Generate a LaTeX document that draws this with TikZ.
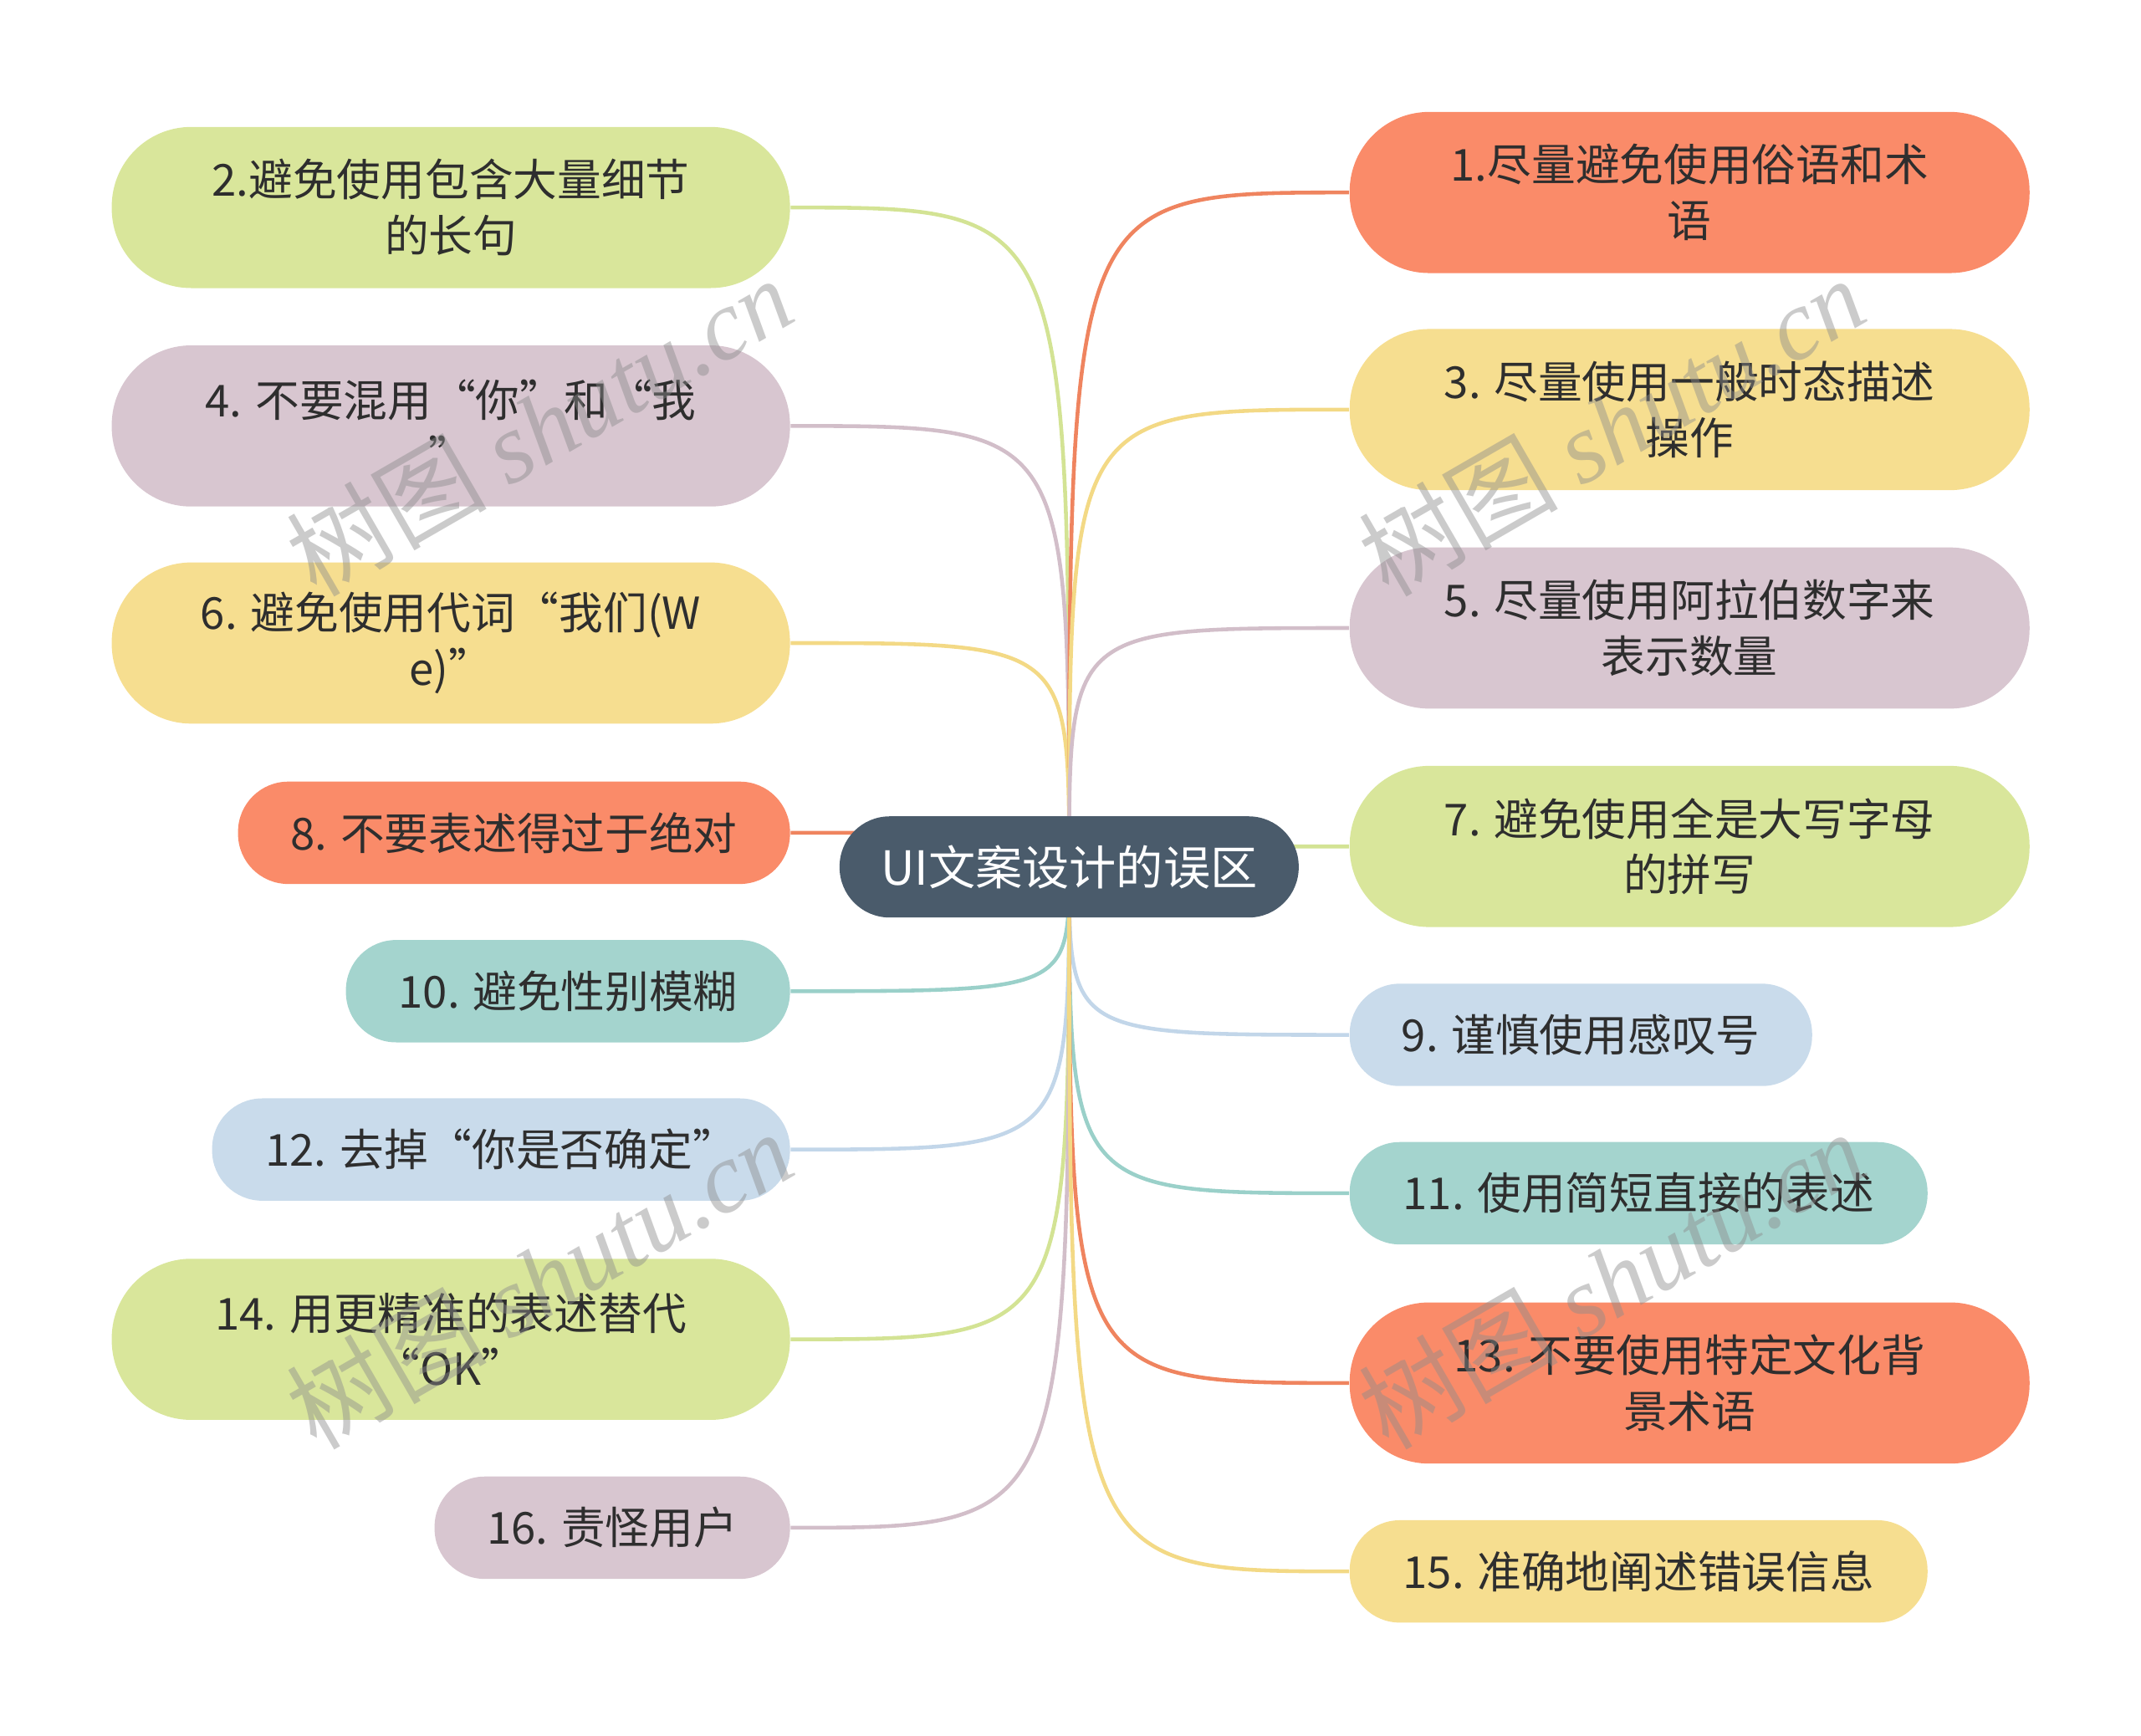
\documentclass[tikz,border=0pt]{standalone}
\usepackage{fontspec}
\setmainfont{Noto Sans CJK SC}
\newfontfamily\wmlatin{Liberation Serif}
\usetikzlibrary{backgrounds}
\definecolor{fgreen}{HTML}{D9E69B}
\definecolor{fmauve}{HTML}{D8C6D0}
\definecolor{fyellow}{HTML}{F6DE90}
\definecolor{fcoral}{HTML}{FA8B69}
\definecolor{fteal}{HTML}{A4D4CE}
\definecolor{fblue}{HTML}{C9DBEB}
\definecolor{egreen}{HTML}{D3E394}
\definecolor{emauve}{HTML}{D2BEC9}
\definecolor{eyellow}{HTML}{F3D985}
\definecolor{ecoral}{HTML}{EF845F}
\definecolor{eteal}{HTML}{9AD0C9}
\definecolor{eblue}{HTML}{C2D6E9}
\definecolor{rootfill}{HTML}{4A5B6B}
\definecolor{txt}{HTML}{2E2E2E}
\definecolor{wmgray}{HTML}{8C8C8C}
\begin{document}
\begin{tikzpicture}[x=0.016327cm,y=-0.016327cm,
  leaf/.style={align=center,text=txt,inner sep=0pt,
    font=\fontsize{15}{19}\selectfont},
  twoline/.style={leaf,minimum height=1.927cm,rounded corners=0.95cm},
  oneline/.style={leaf,minimum height=1.224cm,rounded corners=0.6cm},
  lside/.style={anchor=east},
  rside/.style={anchor=west},
  edge/.style={line width=1.3pt},
  wm/.style={text=wmgray,text opacity=0.45,font=\fontsize{34}{34}\selectfont,
    rotate=30,inner sep=0pt}]
\useasboundingbox (0,0) rectangle (1568,1271);

% root
\node[fill=rootfill,text=white,minimum width=5.49cm,minimum height=1.21cm,
  rounded corners=0.6cm,inner sep=0pt,font=\fontsize{16}{19}\selectfont]
  (root) at (783,635) {UI文案设计的误区};

% left column
\node[twoline,lside,fill=fgreen,minimum width=8.11cm] (n2) at (579,152)
  {2.避免使用包含大量细节\\的长句};
\node[twoline,lside,fill=fmauve,minimum width=8.11cm] (n4) at (579,312)
  {4. 不要混用“你”和“我\\”};
\node[twoline,lside,fill=fyellow,minimum width=8.11cm] (n6) at (579,471)
  {6. 避免使用代词“我们(W\\e)”};
\node[oneline,lside,fill=fcoral,minimum width=6.60cm] (n8) at (579,610)
  {8. 不要表述得过于绝对};
\node[oneline,lside,fill=fteal,minimum width=5.31cm] (n10) at (579,726)
  {10. 避免性别模糊};
\node[oneline,lside,fill=fblue,minimum width=6.91cm] (n12) at (579,842)
  {12. 去掉“你是否确定”};
\node[twoline,lside,fill=fgreen,minimum width=8.11cm] (n14) at (579,981)
  {14. 用更精准的表述替代\\“OK”};
\node[oneline,lside,fill=fmauve,minimum width=4.25cm] (n16) at (579,1119)
  {16. 责怪用户};

% right column
\node[twoline,rside,fill=fcoral,minimum width=8.13cm] (n1) at (988,141)
  {1.尽量避免使用俗语和术\\语};
\node[twoline,rside,fill=fyellow,minimum width=8.13cm] (n3) at (988,300)
  {3. 尽量使用一般时态描述\\操作};
\node[twoline,rside,fill=fmauve,minimum width=8.13cm] (n5) at (988,460)
  {5. 尽量使用阿拉伯数字来\\表示数量};
\node[twoline,rside,fill=fgreen,minimum width=8.13cm] (n7) at (988,620)
  {7. 避免使用全是大写字母\\的拼写};
\node[oneline,rside,fill=fblue,minimum width=5.53cm] (n9) at (988,758)
  {9. 谨慎使用感叹号};
\node[oneline,rside,fill=fteal,minimum width=6.91cm] (n11) at (988,874)
  {11. 使用简短直接的表述};
\node[twoline,rside,fill=fcoral,minimum width=8.13cm] (n13) at (988,1013)
  {13. 不要使用特定文化背\\景术语};
\node[oneline,rside,fill=fyellow,minimum width=6.91cm] (n15) at (988,1151)
  {15. 准确地阐述错误信息};

% connectors
\begin{scope}[on background layer]
\draw[edge,egreen]  (root.center) .. controls (783,152)  .. (n2.east);
\draw[edge,emauve]  (root.center) .. controls (783,312)  .. (n4.east);
\draw[edge,eyellow] (root.center) .. controls (783,471)  .. (n6.east);
\draw[edge,ecoral]  (root.center) .. controls (783,610)  .. (n8.east);
\draw[edge,eteal]   (root.center) .. controls (783,726)  .. (n10.east);
\draw[edge,eblue]   (root.center) .. controls (783,842)  .. (n12.east);
\draw[edge,egreen]  (root.center) .. controls (783,981)  .. (n14.east);
\draw[edge,emauve]  (root.center) .. controls (783,1119) .. (n16.east);
\draw[edge,ecoral]  (root.center) .. controls (783,141)  .. (n1.west);
\draw[edge,eyellow] (root.center) .. controls (783,300)  .. (n3.west);
\draw[edge,emauve]  (root.center) .. controls (783,460)  .. (n5.west);
\draw[edge,egreen]  (root.center) .. controls (783,620)  .. (n7.west);
\draw[edge,eblue]   (root.center) .. controls (783,758)  .. (n9.west);
\draw[edge,eteal]   (root.center) .. controls (783,874)  .. (n11.west);
\draw[edge,ecoral]  (root.center) .. controls (783,1013) .. (n13.west);
\draw[edge,eyellow] (root.center) .. controls (783,1151) .. (n15.west);
\end{scope}

% watermarks
\node[wm] (wm1) at (395,312) {树图 {\wmlatin\itshape shutu.cn}};
\node[wm] (wm2) at (1180,312) {树图 {\wmlatin\itshape shutu.cn}};
\node[wm] (wm3) at (395,937) {树图 {\wmlatin\itshape shutu.cn}};
\node[wm] (wm4) at (1180,937) {树图 {\wmlatin\itshape shutu.cn}};
\end{tikzpicture}
\end{document}
